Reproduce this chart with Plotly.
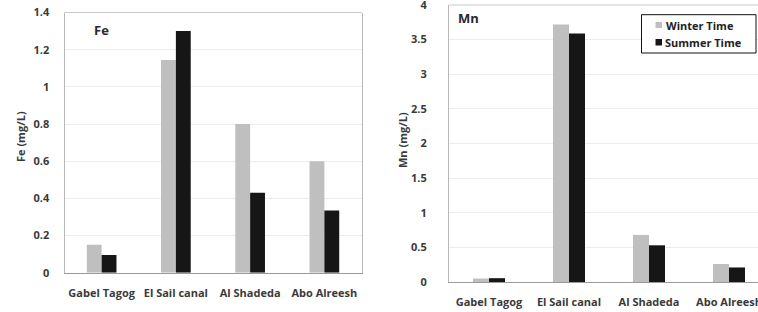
import plotly.graph_objects as go

W, H = 758, 312

sites = ["Gabel Tagog", "El Sail canal", "Al Shadeda", "Abo Alreesh"]
series_names = ["Winter Time", "Summer Time"]
fe_winter = [0.15, 1.145, 0.80, 0.60]
fe_summer = [0.095, 1.30, 0.43, 0.335]
mn_winter = [0.05, 3.72, 0.68, 0.26]
mn_summer = [0.055, 3.59, 0.53, 0.21]
fe_ticks = [0, 0.2, 0.4, 0.6, 0.8, 1, 1.2, 1.4]
mn_ticks = [0, 0.5, 1, 1.5, 2, 2.5, 3, 3.5, 4]

WINTER = "#bfbfbf"
SUMMER = "#161616"
FONT = "Open Sans"
TXT = "#3a3a3a"


def px(x):
    return x / W


def py(y):
    return 1 - y / H


fig = go.Figure()
for vals, name, col in [(fe_winter, series_names[0], WINTER), (fe_summer, series_names[1], SUMMER)]:
    fig.add_trace(go.Bar(x=sites, y=vals, name=name, marker=dict(color=col, line=dict(width=0)),
                         xaxis="x", yaxis="y", showlegend=False))
for vals, name, col in [(mn_winter, series_names[0], WINTER), (mn_summer, series_names[1], SUMMER)]:
    fig.add_trace(go.Bar(x=sites, y=vals, name=name, marker=dict(color=col, line=dict(width=0)),
                         xaxis="x2", yaxis="y2", showlegend=False))

tickfont = dict(family=FONT, size=11, color=TXT, weight="bold")

common_x = dict(type="category", showline=True, linecolor="#9a9a9a", linewidth=1, showgrid=False,
                ticks="", tickfont=tickfont, ticklabelstandoff=10, fixedrange=True, automargin=False,
                ticklabeloverflow="allow")
common_y = dict(showline=True, linecolor="#b8b8b8", linewidth=1, showgrid=True, gridcolor="#ececec",
                gridwidth=1, zeroline=False, ticks="", tickfont=tickfont, fixedrange=True, automargin=False,
                ticklabeloverflow="allow")

fig.update_layout(
    width=W, height=H,
    margin=dict(l=0, r=0, t=0, b=0, autoexpand=False),
    paper_bgcolor="white", plot_bgcolor="white",
    barmode="group", bargap=0.6, bargroupgap=0,
    xaxis=dict(common_x, domain=[px(64.5), px(361.5)], range=[-0.5, 3.5], anchor="y"),
    yaxis=dict(common_y, domain=[py(272.7), py(12.5)], range=[0, 1.4], tickvals=fe_ticks,
               ticktext=[f"{t:g}" for t in fe_ticks], mirror=True, ticklabelstandoff=12, anchor="x"),
    xaxis2=dict(common_x, domain=[px(449), 1.0], range=[-0.5, 3.3625], anchor="y2"),
    yaxis2=dict(common_y, domain=[py(282), py(5)], range=[0, 4], tickvals=mn_ticks,
                ticktext=[f"{t:g}" for t in mn_ticks], ticklabelstandoff=19, anchor="x2"),
)

shapes = [
    dict(type="line", xref="x domain", yref="y domain", x0=0, x1=1, y0=1, y1=1,
         line=dict(color="#c8c8c8", width=1)),
    dict(type="line", xref="x2 domain", yref="y2 domain", x0=0, x1=1, y0=1, y1=1,
         line=dict(color="#c8c8c8", width=1)),
    # legend box
    dict(type="rect", xref="paper", yref="paper", x0=px(641.5), x1=px(756), y0=py(53), y1=py(14.7),
         line=dict(color="#111111", width=1), fillcolor="white"),
    dict(type="rect", xref="paper", yref="paper", x0=px(655.5), x1=px(662), y0=py(28), y1=py(22),
         line=dict(width=0), fillcolor=WINTER),
    dict(type="rect", xref="paper", yref="paper", x0=px(655.5), x1=px(662), y0=py(45.5), y1=py(39),
         line=dict(width=0), fillcolor=SUMMER),
]

annots = [
    dict(text="Fe (mg/L)", x=px(20), y=py(137), textangle=-90),
    dict(text="Mn (mg/L)", x=px(402), y=py(140), textangle=-90),
]
annotations = []
for a in annots:
    annotations.append(dict(a, xref="paper", yref="paper", showarrow=False, xanchor="center", yanchor="middle",
                            font=dict(family=FONT, size=11, color=TXT, weight="bold")))
annotations += [
    dict(text="Fe", x=px(92), y=py(30), xref="paper", yref="paper", showarrow=False, xanchor="left",
         yanchor="middle", font=dict(family=FONT, size=13, color="#2a2a2a", weight="bold")),
    dict(text="Mn", x=px(456), y=py(17.5), xref="paper", yref="paper", showarrow=False, xanchor="left",
         yanchor="middle", font=dict(family=FONT, size=13, color="#2a2a2a", weight="bold")),
    dict(text=series_names[0], x=px(664), y=py(25), xref="paper", yref="paper", showarrow=False,
         xanchor="left", yanchor="middle", font=dict(family=FONT, size=11, color="#222222", weight="bold")),
    dict(text=series_names[1], x=px(663), y=py(42.5), xref="paper", yref="paper", showarrow=False,
         xanchor="left", yanchor="middle", font=dict(family=FONT, size=11, color="#222222", weight="bold")),
]

fig.update_layout(shapes=shapes, annotations=annotations)
fig.write_html("out.html", config={"displayModeBar": False, "staticPlot": True},
               post_script="document.body.style.margin='0px';document.body.style.overflow='hidden';")
